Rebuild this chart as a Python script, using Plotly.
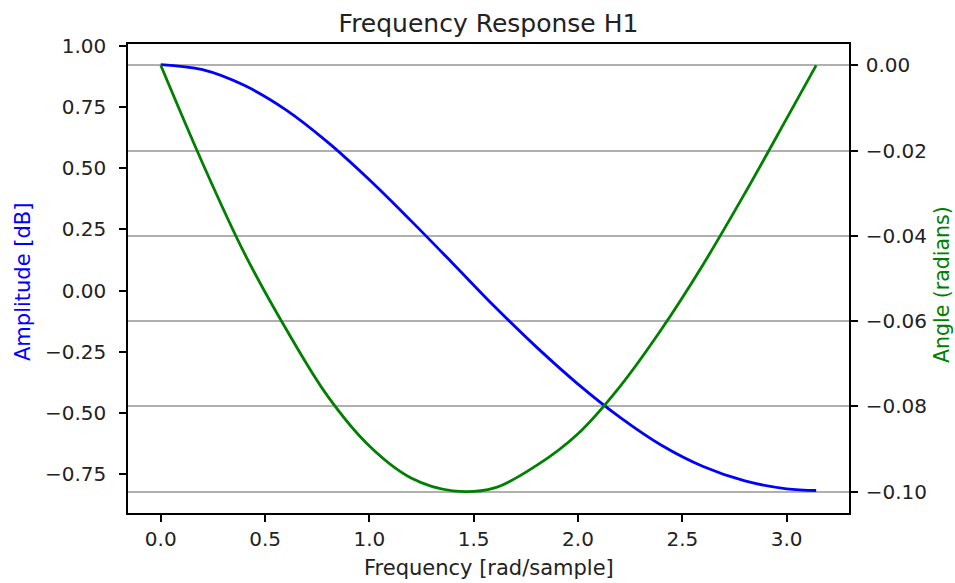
import plotly.graph_objects as go

# ---- data ----
freq = [0.0, 0.2, 0.4, 0.6, 0.8, 1.0, 1.2, 1.4, 1.6, 1.8,
        2.0, 2.2, 2.4, 2.6, 2.8, 3.0, 3.1416]
amp_db = [0.924, 0.903, 0.839, 0.739, 0.607, 0.453, 0.285, 0.111, -0.065, -0.230,
          -0.382, -0.517, -0.632, -0.719, -0.778, -0.810, -0.817]
angle_rad = [0.0, -0.0229, -0.0440, -0.0618, -0.0776, -0.0893, -0.0968, -0.0998, -0.0991, -0.0939,
             -0.0864, -0.0754, -0.0619, -0.0467, -0.0300, -0.0125, 0.0]

x_ticks = [0.0, 0.5, 1.0, 1.5, 2.0, 2.5, 3.0]
x_ticktext = ["0.0", "0.5", "1.0", "1.5", "2.0", "2.5", "3.0"]
y1_ticks = [-0.75, -0.5, -0.25, 0.0, 0.25, 0.5, 0.75, 1.0]
y1_ticktext = ["\u22120.75", "\u22120.50", "\u22120.25", "0.00", "0.25", "0.50", "0.75", "1.00"]
y2_ticks = [-0.10, -0.08, -0.06, -0.04, -0.02, 0.0]
y2_ticktext = ["\u22120.10", "\u22120.08", "\u22120.06", "\u22120.04", "\u22120.02", "0.00"]

FONT = "DejaVu Sans"
TXT = "#222222"
W, H = 955, 583
L, R, T, B = 128, 106, 44, 70
pw, ph = W - L - R, H - T - B

fig = go.Figure()
fig.add_trace(go.Scatter(x=freq, y=amp_db, mode="lines", yaxis="y",
                         line=dict(color="#0000ff", width=2.8, shape="spline", smoothing=1.0),
                         showlegend=False, hoverinfo="skip"))
fig.add_trace(go.Scatter(x=freq, y=angle_rad, mode="lines", yaxis="y2",
                         line=dict(color="#008000", width=2.8, shape="spline", smoothing=1.0),
                         showlegend=False, hoverinfo="skip"))

axis_common = dict(ticks="outside", ticklen=7, tickwidth=1.5, tickcolor="black",
                   showline=True, linecolor="black", linewidth=1.5, zeroline=False,
                   tickfont=dict(family=FONT, size=20, color=TXT))

fig.update_layout(
    width=W, height=H,
    margin=dict(l=L, r=R, t=T, b=B, pad=0),
    paper_bgcolor="white", plot_bgcolor="white",
    font=dict(family=FONT, color=TXT),
    xaxis=dict(range=[-0.157, 3.299], tickvals=x_ticks, ticktext=x_ticktext,
               showgrid=False, mirror=True, **axis_common),
    yaxis=dict(range=[-0.909, 1.008], tickvals=y1_ticks, ticktext=y1_ticktext,
               showgrid=False, mirror=True, ticklabelstandoff=9, **axis_common),
    yaxis2=dict(range=[-0.105, 0.005], tickvals=y2_ticks, ticktext=y2_ticktext,
                overlaying="y", side="right", showgrid=True, gridcolor="#b0b0b0",
                gridwidth=1.6, ticklabelstandoff=4, **axis_common),
    title=dict(text="Frequency Response H1", x=(L + pw / 2) / W, xanchor="center",
               y=1 - 23 / H, yanchor="middle", yref="container",
               font=dict(family=FONT, size=25, color=TXT)),
    annotations=[
        dict(text="Frequency [rad/sample]", xref="paper", yref="paper",
             x=0.5, y=(H - B - 568) / ph, xanchor="center", yanchor="middle",
             showarrow=False, font=dict(family=FONT, size=21, color=TXT)),
        dict(text="Amplitude [dB]", xref="paper", yref="paper", textangle=-90,
             x=(23 - L) / pw, y=(H - B - 282) / ph, xanchor="center", yanchor="middle",
             showarrow=False, font=dict(family=FONT, size=21, color="#0000ff")),
        dict(text="Angle (radians)", xref="paper", yref="paper", textangle=-90,
             x=(942 - L) / pw, y=(H - B - 285) / ph, xanchor="center", yanchor="middle",
             showarrow=False, font=dict(family=FONT, size=20.5, color="#008000")),
    ],
)

fig.write_html("out.html")
